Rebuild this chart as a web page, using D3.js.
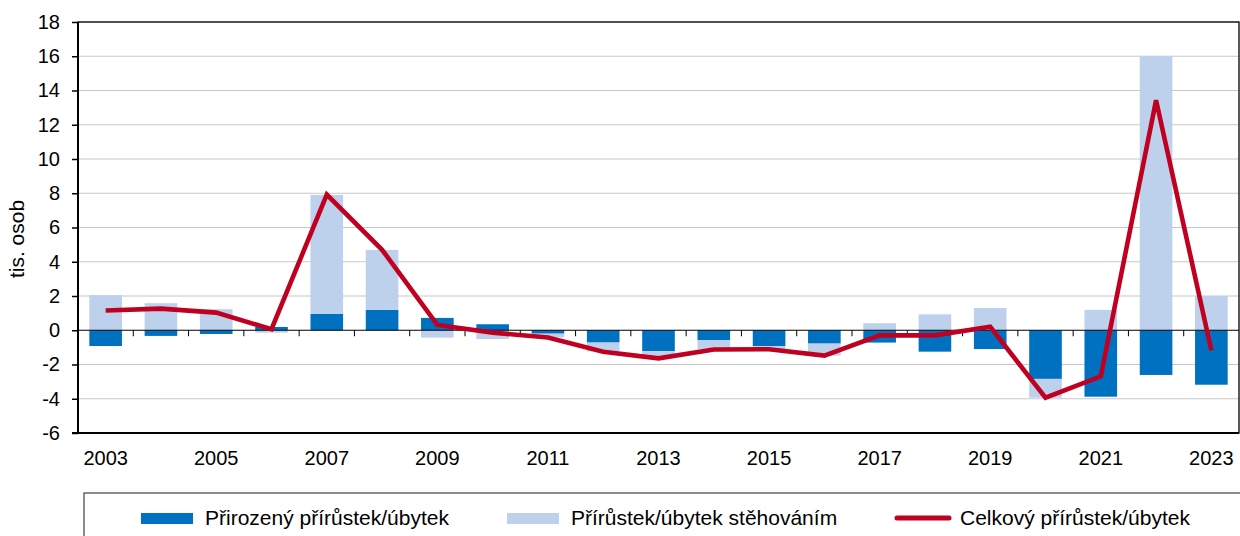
<!DOCTYPE html>
<html><head><meta charset="utf-8">
<script src="https://cdn.jsdelivr.net/npm/d3@7"></script>
<style>body{margin:0;background:#fff}svg{display:block}text{font-family:"Liberation Sans",Arial,sans-serif;fill:#000}</style>
</head><body><svg id="c" width="1240" height="536"></svg>
<script>
const years = [2003,2004,2005,2006,2007,2008,2009,2010,2011,2012,2013,2014,2015,2016,2017,2018,2019,2020,2021,2022,2023];
const natural = [-0.92,-0.33,-0.22,0.19,0.95,1.19,0.72,0.35,-0.2,-0.72,-1.22,-0.57,-0.93,-0.78,-0.72,-1.25,-1.1,-2.84,-3.88,-2.61,-3.18];
const migration = [2.05,1.58,1.23,-0.14,6.95,3.5,-0.43,-0.51,-0.22,-0.52,-0.42,-0.55,-0.18,-0.7,0.41,0.93,1.3,-1.1,1.19,16.02,2.0];
const total = [1.15,1.26,1.03,0.06,7.92,4.7,0.31,-0.14,-0.42,-1.26,-1.64,-1.12,-1.11,-1.48,-0.3,-0.3,0.2,-3.94,-2.69,13.43,-1.18];
const yTicks = [-6,-4,-2,0,2,4,6,8,10,12,14,16,18];
const xLabelYears = [2003,2005,2007,2009,2011,2013,2015,2017,2019,2021,2023];
const seriesNames = ["Přirozený přírůstek/úbytek","Přírůstek/úbytek stěhováním","Celkový přírůstek/úbytek"];
const colors = {nat:"#0070C0", mig:"#BDD0EC", tot:"#C00020"};

const svg = d3.select("#c");
const L=78, R=1239, T=22, B=433;
const x = d3.scaleBand().domain(years).range([L,R]).paddingInner(0.41).paddingOuter(0.205);
const y = d3.scaleLinear().domain([-6,18]).range([B,T]);

// gridlines
svg.append("g").selectAll("line").data(yTicks.filter(d=>d!==0)).join("line")
  .attr("x1",L).attr("x2",R).attr("y1",d=>y(d)).attr("y2",d=>y(d))
  .attr("stroke","#C8C8C8").attr("stroke-width",1.2);

// stacked bars
const rows = years.map((yr,i)=>({year:yr,nat:natural[i],mig:migration[i]}));
const stack = d3.stack().keys(["nat","mig"]).offset(d3.stackOffsetDiverging)(rows);
svg.append("g").selectAll("g").data(stack).join("g").attr("fill",d=>colors[d.key])
  .selectAll("rect").data(d=>d).join("rect")
  .attr("x",d=>x(d.data.year)).attr("width",x.bandwidth())
  .attr("y",d=>y(Math.max(d[0],d[1]))).attr("height",d=>Math.abs(y(d[0])-y(d[1])));

// zero line + category ticks
svg.append("line").attr("x1",L).attr("x2",R).attr("y1",y(0)).attr("y2",y(0)).attr("stroke","#000").attr("stroke-width",1.2);
const step = x.step();
svg.append("g").selectAll("line").data(years.slice(1)).join("line")
  .attr("x1",d=>x(d)-x.paddingInner()*step/2).attr("x2",d=>x(d)-x.paddingInner()*step/2)
  .attr("y1",y(0)).attr("y2",y(0)+6).attr("stroke","#000").attr("stroke-width",1);

// total line
svg.append("path").datum(years.map((yr,i)=>[yr,total[i]]))
  .attr("fill","none").attr("stroke",colors.tot).attr("stroke-width",4.6).attr("stroke-linejoin","miter")
  .attr("d",d3.line().x(d=>x(d[0])+x.bandwidth()/2).y(d=>y(d[1])));

// frame
svg.append("rect").attr("x",L).attr("y",T).attr("width",R-L).attr("height",B-T)
  .attr("fill","none").attr("stroke","#000").attr("stroke-width",1.3);
svg.append("line").attr("x1",L).attr("x2",L).attr("y1",T).attr("y2",B).attr("stroke","#000").attr("stroke-width",2);
svg.append("line").attr("x1",L-6).attr("x2",R).attr("y1",B).attr("y2",B).attr("stroke","#000").attr("stroke-width",2);

// y axis
const yAxis = d3.axisLeft(y).tickValues(yTicks).tickSize(6).tickPadding(12).tickFormat(d=>d<0?"-"+Math.abs(d):d);
const ga = svg.append("g").attr("transform",`translate(${L},0)`).call(yAxis);
ga.select(".domain").remove();
ga.selectAll(".tick line").attr("stroke","#000").attr("stroke-width",1.5);
ga.selectAll("text").attr("font-size",20).attr("font-family",'"Liberation Sans",Arial,sans-serif').attr("fill","#000");

svg.append("text").attr("transform","translate(24,239) rotate(-90)").attr("text-anchor","middle")
  .attr("font-size",21).text("tis. osob");

// x labels
svg.append("g").selectAll("text").data(xLabelYears).join("text")
  .attr("x",d=>x(d)+x.bandwidth()/2).attr("y",465).attr("text-anchor","middle").attr("font-size",20).text(d=>d);

// legend
svg.append("rect").attr("x",84).attr("y",493).attr("width",1200).attr("height",80)
  .attr("fill","none").attr("stroke","#404040").attr("stroke-width",1.2);
const lg = [
  {sx:141, tx:205, type:"rect", c:colors.nat, t:seriesNames[0]},
  {sx:507, tx:571, type:"rect", c:colors.mig, t:seriesNames[1]},
  {sx:895, tx:960, type:"line", c:colors.tot, t:seriesNames[2]}
];
lg.forEach(d=>{
  if(d.type==="rect") svg.append("rect").attr("x",d.sx).attr("y",513).attr("width",52).attr("height",11).attr("fill",d.c);
  else svg.append("line").attr("x1",d.sx+2).attr("x2",d.sx+54).attr("y1",518).attr("y2",518).attr("stroke",d.c).attr("stroke-width",5).attr("stroke-linecap","round");
  svg.append("text").attr("x",d.tx).attr("y",525).attr("font-size",21).text(d.t);
});
</script></body></html>
